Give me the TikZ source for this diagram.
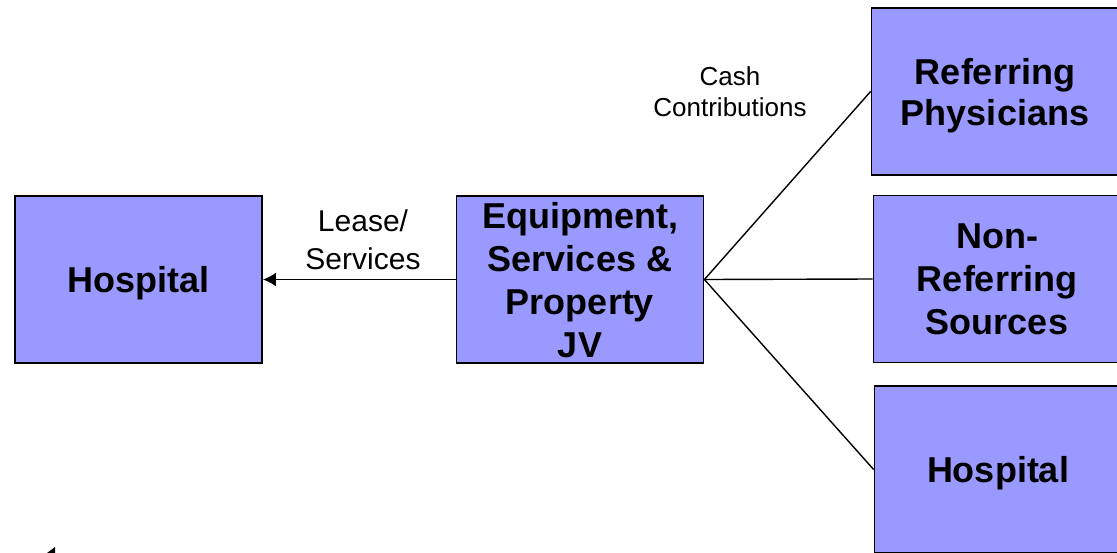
\documentclass[tikz,border=0pt]{standalone}
\usepackage{fontspec}
\setmainfont{Liberation Sans}
\usetikzlibrary{arrows.meta}
\definecolor{boxfill}{HTML}{9999FF}
\tikzset{
  entity/.style={draw=black, line width=1.8pt, fill=boxfill, minimum width=247pt,
    minimum height=167pt, inner sep=0pt, align=center, text=black,
    font=\fontsize{36}{43}\selectfont\bfseries},
  link/.style={draw=black, line width=1.4pt},
  flowlabel/.style={align=center, inner sep=0pt, text=black}
}
\begin{document}
\begin{tikzpicture}[x=1pt, y=-1pt]
  \useasboundingbox (0,0) rectangle (1117,552);
  \clip (0,0) rectangle (1117,552);

  % left side
  \node[entity, text depth=0pt] (hospL) at (138.5,279.5) {Hospital};
  \node[entity] (jv) at (580,279.5) {\rule{0pt}{0pt}\\[-16pt]Equipment,\\Services \&\\Property\\JV};

  % right side
  \node[entity, text depth=0pt, font=\fontsize{36}{41}\selectfont\bfseries] (refP) at (995,91.5) {Referring\\Physicians};
  \node[entity] (nonR) at (997,279) {Non-\\Referring\\Sources};
  \node[entity, text depth=0pt] (hospR) at (998,469.5) {Hospital};

  % connectors
  \draw[link, line width=1.9pt, -{Latex[length=13pt, width=14pt]}] (jv.west) -- (hospL.east);
  \draw[link] (jv.east) -- (refP.west);
  \draw[link] (jv.east) -- (nonR.west);
  \draw[link] (jv.east) -- (hospR.west);

  % labels
  \node[flowlabel, font=\fontsize{30}{38}\selectfont] (lease) at (363,240) {Lease/\\Services};
  \node[flowlabel, font=\fontsize{26}{31}\selectfont] (cash) at (730,92) {Cash\\Contributions};

  % arrow tip at the lower left edge
  \fill[black] (47,553) -- (55,547) -- (55,559) -- cycle;
\end{tikzpicture}
\end{document}
